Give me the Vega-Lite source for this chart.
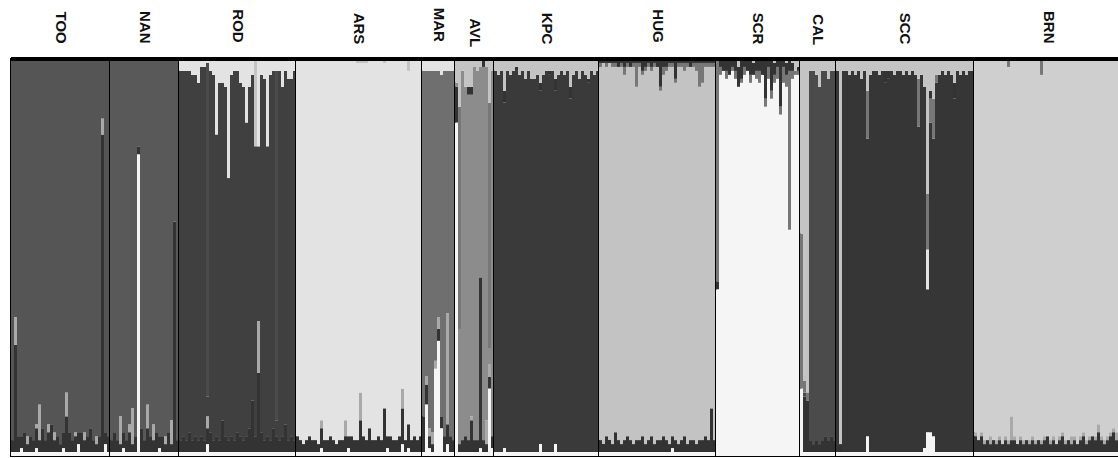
{
"$schema":"https://vega.github.io/schema/vega-lite/v6.json",
"padding":{"left":8,"top":7,"right":0,"bottom":0},
"background":"white",
"data":{"values":[
{"pop":"TOO","id":1,"a":1,"b":3,"d":96},
{"pop":"TOO","id":2,"a":1,"b":27,"c":7,"d":65},
{"pop":"TOO","id":3,"a":1,"b":4,"d":95},
{"pop":"TOO","id":4,"a":2,"b":3,"d":95},
{"pop":"TOO","id":5,"a":1,"b":5,"d":94},
{"pop":"TOO","id":6,"a":1,"b":2,"c":2,"d":95},
{"pop":"TOO","id":7,"a":1,"b":4,"d":95},
{"pop":"TOO","id":8,"a":1,"b":3,"d":96},
{"pop":"TOO","id":9,"a":2,"b":5,"c":1,"d":92},
{"pop":"TOO","id":10,"a":1,"b":3,"c":9,"d":87},
{"pop":"TOO","id":11,"a":1,"b":6,"d":93},
{"pop":"TOO","id":12,"a":1,"b":3,"d":96},
{"pop":"TOO","id":13,"a":1,"b":5,"c":2,"d":92},
{"pop":"TOO","id":14,"a":1,"b":7,"d":92},
{"pop":"TOO","id":15,"a":1,"b":3,"c":2,"d":94},
{"pop":"TOO","id":16,"a":1,"b":4,"d":95},
{"pop":"TOO","id":17,"a":1,"b":2,"d":97},
{"pop":"TOO","id":18,"a":2,"b":4,"d":94},
{"pop":"TOO","id":19,"a":1,"b":9,"c":6,"d":84},
{"pop":"TOO","id":20,"a":1,"b":5,"d":94},
{"pop":"TOO","id":21,"a":1,"b":3,"d":96},
{"pop":"TOO","id":22,"a":1,"b":4,"c":1,"d":94},
{"pop":"TOO","id":23,"a":3,"b":3,"d":94},
{"pop":"TOO","id":24,"a":1,"b":5,"d":94},
{"pop":"TOO","id":25,"a":1,"b":3,"c":2,"d":94},
{"pop":"TOO","id":26,"a":1,"b":4,"d":95},
{"pop":"TOO","id":27,"a":1,"b":6,"d":93},
{"pop":"TOO","id":28,"a":1,"b":3,"d":96},
{"pop":"TOO","id":29,"a":1,"b":2,"c":2,"d":95},
{"pop":"TOO","id":30,"a":1,"b":4,"d":95},
{"pop":"TOO","id":31,"a":1,"b":80,"c":4,"d":15},
{"pop":"TOO","id":32,"a":3,"b":3,"d":94},
{"pop":"TOO","id":33,"a":1,"b":4,"d":95},
{"pop":"NAN","id":34,"a":1,"b":3,"e":96},
{"pop":"NAN","id":35,"a":1,"b":5,"e":94},
{"pop":"NAN","id":36,"a":1,"b":3,"e":96},
{"pop":"NAN","id":37,"a":1,"b":2,"c":7,"e":90},
{"pop":"NAN","id":38,"a":2,"b":4,"e":94},
{"pop":"NAN","id":39,"a":1,"b":3,"e":96},
{"pop":"NAN","id":40,"a":1,"b":5,"c":2,"e":92},
{"pop":"NAN","id":41,"a":1,"b":2,"c":9,"e":88},
{"pop":"NAN","id":42,"a":1,"b":4,"e":95},
{"pop":"NAN","id":43,"a":76,"b":2,"e":22},
{"pop":"NAN","id":44,"a":1,"b":6,"e":93},
{"pop":"NAN","id":45,"a":1,"b":3,"e":96},
{"pop":"NAN","id":46,"a":1,"b":6,"c":6,"e":87},
{"pop":"NAN","id":47,"a":1,"b":4,"e":95},
{"pop":"NAN","id":48,"a":1,"b":3,"c":4,"e":92},
{"pop":"NAN","id":49,"a":1,"b":5,"e":94},
{"pop":"NAN","id":50,"a":2,"b":3,"e":95},
{"pop":"NAN","id":51,"a":1,"b":4,"e":95},
{"pop":"NAN","id":52,"a":1,"b":2,"c":2,"e":95},
{"pop":"NAN","id":53,"a":1,"b":5,"e":94},
{"pop":"NAN","id":54,"a":1,"b":2,"c":6,"e":91},
{"pop":"NAN","id":55,"a":1,"b":58,"e":41},
{"pop":"NAN","id":56,"a":1,"b":3,"e":96},
{"pop":"ROD","id":57,"a":1,"b":3,"f":93,"n":3},
{"pop":"ROD","id":58,"a":1,"b":4,"f":92,"n":3},
{"pop":"ROD","id":59,"a":1,"b":3,"f":93,"n":3},
{"pop":"ROD","id":60,"a":1,"b":5,"f":91,"n":3},
{"pop":"ROD","id":61,"a":1,"b":3,"f":92,"n":4},
{"pop":"ROD","id":62,"a":1,"b":4,"f":91,"n":4},
{"pop":"ROD","id":63,"a":1,"b":3,"f":90,"n":6},
{"pop":"ROD","id":64,"a":1,"b":4,"f":93,"n":2},
{"pop":"ROD","id":65,"a":1,"b":3,"f":94,"n":2},
{"pop":"ROD","id":66,"a":3,"b":4,"c":3,"f":5,"j":84,"n":1},
{"pop":"ROD","id":67,"a":1,"b":5,"f":91,"n":3},
{"pop":"ROD","id":68,"a":1,"b":3,"f":92,"n":4},
{"pop":"ROD","id":69,"a":1,"b":4,"f":76,"n":19},
{"pop":"ROD","id":70,"a":1,"b":3,"f":90,"n":6},
{"pop":"ROD","id":71,"a":1,"b":8,"f":85,"n":6},
{"pop":"ROD","id":72,"a":1,"b":4,"f":88,"n":7},
{"pop":"ROD","id":73,"a":1,"b":3,"f":66,"n":30},
{"pop":"ROD","id":74,"a":1,"b":4,"f":91,"n":4},
{"pop":"ROD","id":75,"a":1,"b":3,"f":93,"n":3},
{"pop":"ROD","id":76,"a":1,"b":5,"f":91,"n":3},
{"pop":"ROD","id":77,"a":1,"b":4,"f":89,"n":6},
{"pop":"ROD","id":78,"a":1,"b":3,"f":89,"n":7},
{"pop":"ROD","id":79,"a":1,"b":4,"f":79,"n":16},
{"pop":"ROD","id":80,"a":1,"b":6,"f":86,"n":7},
{"pop":"ROD","id":81,"a":1,"b":13,"f":82,"n":4},
{"pop":"ROD","id":82,"a":1,"b":4,"f":73,"q":22},
{"pop":"ROD","id":83,"a":1,"b":20,"c":13,"f":44,"n":22},
{"pop":"ROD","id":84,"a":1,"b":5,"f":90,"n":4},
{"pop":"ROD","id":85,"a":1,"b":3,"f":91,"n":5},
{"pop":"ROD","id":86,"a":1,"b":4,"f":73,"n":22},
{"pop":"ROD","id":87,"a":1,"b":3,"f":92,"n":4},
{"pop":"ROD","id":88,"a":1,"b":6,"f":90,"n":3},
{"pop":"ROD","id":89,"a":1,"b":4,"f":4,"j":88,"n":3},
{"pop":"ROD","id":90,"a":1,"b":3,"f":93,"n":3},
{"pop":"ROD","id":91,"a":1,"b":4,"f":88,"n":7},
{"pop":"ROD","id":92,"a":1,"b":7,"f":89,"n":3},
{"pop":"ROD","id":93,"a":1,"b":3,"f":91,"n":5},
{"pop":"ROD","id":94,"a":1,"b":4,"f":90,"n":5},
{"pop":"ROD","id":95,"a":1,"b":3,"f":93,"n":3},
{"pop":"ARS","id":96,"a":1,"b":4,"n":95},
{"pop":"ARS","id":97,"a":1,"b":3,"n":96},
{"pop":"ARS","id":98,"a":1,"b":2,"n":97},
{"pop":"ARS","id":99,"a":1,"b":3,"n":96},
{"pop":"ARS","id":100,"a":1,"b":4,"n":95},
{"pop":"ARS","id":101,"a":1,"b":3,"n":96},
{"pop":"ARS","id":102,"a":1,"b":3,"n":96},
{"pop":"ARS","id":103,"a":1,"b":2,"n":97},
{"pop":"ARS","id":104,"a":2,"b":5,"c":2,"n":91},
{"pop":"ARS","id":105,"a":1,"b":3,"n":96},
{"pop":"ARS","id":106,"a":1,"b":3,"n":96},
{"pop":"ARS","id":107,"a":1,"b":4,"n":95},
{"pop":"ARS","id":108,"a":1,"b":3,"n":96},
{"pop":"ARS","id":109,"a":1,"b":2,"n":97},
{"pop":"ARS","id":110,"a":1,"b":3,"n":96},
{"pop":"ARS","id":111,"a":1,"b":3,"n":96},
{"pop":"ARS","id":112,"a":1,"b":4,"c":4,"n":91},
{"pop":"ARS","id":113,"a":2,"b":3,"n":95},
{"pop":"ARS","id":114,"a":1,"b":4,"n":95},
{"pop":"ARS","id":115,"a":1,"b":3,"n":96},
{"pop":"ARS","id":116,"a":1,"b":3,"n":95,"q":1},
{"pop":"ARS","id":117,"a":1,"b":8,"c":7,"n":83,"q":1},
{"pop":"ARS","id":118,"a":1,"b":4,"n":94,"q":1},
{"pop":"ARS","id":119,"a":1,"b":3,"n":95,"q":1},
{"pop":"ARS","id":120,"a":1,"b":6,"n":93},
{"pop":"ARS","id":121,"a":1,"b":3,"n":96},
{"pop":"ARS","id":122,"a":1,"b":3,"n":96},
{"pop":"ARS","id":123,"a":1,"b":4,"n":95},
{"pop":"ARS","id":124,"a":1,"b":3,"n":96},
{"pop":"ARS","id":125,"a":1,"b":11,"n":87,"q":1},
{"pop":"ARS","id":126,"a":2,"b":3,"n":95},
{"pop":"ARS","id":127,"a":1,"b":4,"n":95},
{"pop":"ARS","id":128,"a":1,"b":3,"n":96},
{"pop":"ARS","id":129,"a":1,"b":3,"n":96},
{"pop":"ARS","id":130,"a":1,"b":4,"n":95},
{"pop":"ARS","id":131,"a":3,"b":9,"c":5,"n":83},
{"pop":"ARS","id":132,"a":1,"b":3,"n":96},
{"pop":"ARS","id":133,"a":2,"b":6,"n":89,"q":3},
{"pop":"ARS","id":134,"a":1,"b":3,"n":96},
{"pop":"ARS","id":135,"a":1,"b":4,"n":95},
{"pop":"ARS","id":136,"a":1,"b":3,"n":96},
{"pop":"ARS","id":137,"a":1,"b":4,"n":95},
{"pop":"MAR","id":138,"a":1,"b":9,"g":87,"n":3},
{"pop":"MAR","id":139,"a":13,"b":5,"c":2,"g":77,"n":3},
{"pop":"MAR","id":140,"a":2,"b":3,"c":2,"g":90,"n":3},
{"pop":"MAR","id":141,"a":1,"b":2,"c":3,"g":91,"n":3},
{"pop":"MAR","id":142,"a":22,"c":2,"g":73,"n":3},
{"pop":"MAR","id":143,"a":29,"b":3,"c":3,"g":62,"n":3},
{"pop":"MAR","id":144,"a":7,"b":3,"g":86,"n":4},
{"pop":"MAR","id":145,"a":1,"b":4,"g":92,"n":3},
{"pop":"MAR","id":146,"a":3,"b":5,"c":28,"g":61,"n":3},
{"pop":"MAR","id":147,"a":1,"b":4,"g":92,"n":3},
{"pop":"MAR","id":148,"a":1,"b":3,"g":93,"n":3},
{"pop":"AVL","id":149,"a":84,"b":9,"h":1,"q":6},
{"pop":"AVL","id":150,"a":1,"b":2,"h":29,"o":56,"q":12},
{"pop":"AVL","id":151,"a":1,"b":3,"h":93,"q":3},
{"pop":"AVL","id":152,"a":1,"b":4,"h":88,"q":7},
{"pop":"AVL","id":153,"a":1,"b":3,"h":87,"p":2,"q":7},
{"pop":"AVL","id":154,"a":1,"b":8,"c":1,"h":81,"p":2,"q":7},
{"pop":"AVL","id":155,"a":1,"b":3,"h":94,"q":2},
{"pop":"AVL","id":156,"a":1,"b":3,"h":93,"q":3},
{"pop":"AVL","id":157,"a":2,"b":43,"h":53,"q":2},
{"pop":"AVL","id":158,"a":1,"b":3,"h":94,"p":2},
{"pop":"AVL","id":159,"a":1,"b":2,"c":6,"h":89,"q":2},
{"pop":"AVL","id":160,"a":17,"b":3,"c":3,"h":4,"o":62,"q":11},
{"pop":"AVL","id":161,"a":2,"b":3,"h":92,"q":3},
{"pop":"KPC","id":162,"a":1,"i":96,"q":3},
{"pop":"KPC","id":163,"a":1,"i":95,"q":4},
{"pop":"KPC","id":164,"a":1,"i":96,"q":3},
{"pop":"KPC","id":165,"a":2,"i":87,"p":3,"q":8},
{"pop":"KPC","id":166,"a":1,"i":96,"q":3},
{"pop":"KPC","id":167,"a":1,"i":95,"q":4},
{"pop":"KPC","id":168,"a":1,"i":96,"q":3},
{"pop":"KPC","id":169,"a":1,"i":96,"p":1,"q":2},
{"pop":"KPC","id":170,"a":1,"i":95,"q":4},
{"pop":"KPC","id":171,"a":1,"i":96,"q":3},
{"pop":"KPC","id":172,"a":1,"i":94,"q":5},
{"pop":"KPC","id":173,"a":1,"i":96,"q":3},
{"pop":"KPC","id":174,"a":1,"i":94,"q":5},
{"pop":"KPC","id":175,"a":1,"i":94,"q":5},
{"pop":"KPC","id":176,"a":1,"i":95,"q":4},
{"pop":"KPC","id":177,"a":3,"i":89,"p":2,"q":6},
{"pop":"KPC","id":178,"a":1,"i":95,"q":4},
{"pop":"KPC","id":179,"a":1,"i":96,"q":3},
{"pop":"KPC","id":180,"a":1,"i":95,"p":1,"q":3},
{"pop":"KPC","id":181,"a":1,"i":96,"q":3},
{"pop":"KPC","id":182,"a":3,"i":89,"p":3,"q":5},
{"pop":"KPC","id":183,"a":1,"i":95,"q":4},
{"pop":"KPC","id":184,"a":1,"i":96,"q":3},
{"pop":"KPC","id":185,"a":1,"i":95,"q":4},
{"pop":"KPC","id":186,"a":1,"i":96,"q":3},
{"pop":"KPC","id":187,"a":1,"i":89,"p":3,"q":7},
{"pop":"KPC","id":188,"a":1,"i":95,"q":4},
{"pop":"KPC","id":189,"a":1,"i":96,"q":3},
{"pop":"KPC","id":190,"a":1,"i":94,"q":5},
{"pop":"KPC","id":191,"a":1,"i":96,"q":3},
{"pop":"KPC","id":192,"a":1,"i":95,"q":4},
{"pop":"KPC","id":193,"a":1,"i":93,"p":1,"q":5},
{"pop":"KPC","id":194,"a":1,"i":96,"q":3},
{"pop":"KPC","id":195,"a":1,"i":95,"q":4},
{"pop":"KPC","id":196,"a":1,"i":96,"q":3},
{"pop":"HUG","id":197,"a":1,"b":3,"l":94,"o":1,"p":1},
{"pop":"HUG","id":198,"a":1,"b":2,"l":95,"p":1},
{"pop":"HUG","id":199,"a":1,"b":4,"l":93,"o":1,"p":1},
{"pop":"HUG","id":200,"a":1,"b":3,"l":94,"p":1},
{"pop":"HUG","id":201,"a":1,"b":2,"l":95,"o":1,"p":1},
{"pop":"HUG","id":202,"a":1,"b":5,"l":92,"o":1,"p":1},
{"pop":"HUG","id":203,"a":1,"b":3,"l":94,"p":2},
{"pop":"HUG","id":204,"a":1,"b":2,"l":95,"o":1,"p":1},
{"pop":"HUG","id":205,"a":1,"b":3,"l":92,"o":2,"p":2},
{"pop":"HUG","id":206,"a":1,"b":4,"l":93,"o":1,"p":1},
{"pop":"HUG","id":207,"a":1,"b":3,"l":94,"p":2},
{"pop":"HUG","id":208,"a":1,"b":2,"l":95,"o":1,"p":1},
{"pop":"HUG","id":209,"a":1,"b":3,"l":89,"o":6,"p":1},
{"pop":"HUG","id":210,"a":1,"b":3,"l":94,"o":1,"p":1},
{"pop":"HUG","id":211,"a":1,"b":4,"l":91,"o":1,"p":3},
{"pop":"HUG","id":212,"a":1,"b":2,"l":94,"o":1,"p":2},
{"pop":"HUG","id":213,"a":1,"b":3,"l":94,"o":1,"p":1},
{"pop":"HUG","id":214,"a":1,"b":4,"l":92,"o":1,"p":2},
{"pop":"HUG","id":215,"a":1,"b":2,"l":95,"o":1,"p":1},
{"pop":"HUG","id":216,"a":1,"b":3,"l":94,"p":2},
{"pop":"HUG","id":217,"a":1,"b":3,"l":88,"o":1,"p":7},
{"pop":"HUG","id":218,"a":1,"b":4,"l":91,"o":2,"p":2},
{"pop":"HUG","id":219,"a":1,"b":3,"l":93,"o":1,"p":2},
{"pop":"HUG","id":220,"a":1,"b":2,"l":95,"o":1,"p":1},
{"pop":"HUG","id":221,"a":2,"b":3,"l":93,"o":1,"p":1},
{"pop":"HUG","id":222,"a":1,"b":3,"l":90,"o":1,"p":5},
{"pop":"HUG","id":223,"a":1,"b":2,"l":95,"o":1,"p":1},
{"pop":"HUG","id":224,"a":1,"b":3,"l":94,"o":1,"p":1},
{"pop":"HUG","id":225,"a":1,"b":4,"l":92,"o":2,"p":1},
{"pop":"HUG","id":226,"a":1,"b":2,"l":95,"o":1,"p":1},
{"pop":"HUG","id":227,"a":1,"b":3,"l":94,"p":2},
{"pop":"HUG","id":228,"a":1,"b":3,"l":94,"o":1,"p":1},
{"pop":"HUG","id":229,"a":1,"b":2,"l":94,"o":2,"p":1},
{"pop":"HUG","id":230,"a":1,"b":3,"l":89,"o":6,"p":1},
{"pop":"HUG","id":231,"a":1,"b":3,"l":90,"o":5,"p":1},
{"pop":"HUG","id":232,"a":1,"b":4,"l":93,"o":1,"p":1},
{"pop":"HUG","id":233,"a":1,"b":3,"l":94,"o":1,"p":1},
{"pop":"HUG","id":234,"a":1,"b":11,"l":86,"o":1,"p":1},
{"pop":"HUG","id":235,"a":1,"b":3,"l":94,"o":1,"p":1},
{"pop":"SCR","id":236,"a":42,"b":2,"o":56},
{"pop":"SCR","id":237,"a":96,"o":2,"p":2},
{"pop":"SCR","id":238,"a":97,"p":3},
{"pop":"SCR","id":239,"a":95,"o":2,"p":3},
{"pop":"SCR","id":240,"a":96,"p":4},
{"pop":"SCR","id":241,"a":97,"o":1,"p":2},
{"pop":"SCR","id":242,"a":95,"o":2,"p":3},
{"pop":"SCR","id":243,"a":93,"p":5,"q":2},
{"pop":"SCR","id":244,"a":94,"o":1,"p":5},
{"pop":"SCR","id":245,"a":96,"o":2,"p":2},
{"pop":"SCR","id":246,"a":97,"p":3},
{"pop":"SCR","id":247,"a":94,"o":2,"p":4},
{"pop":"SCR","id":248,"a":96,"p":3,"q":1},
{"pop":"SCR","id":249,"a":95,"o":2,"p":3},
{"pop":"SCR","id":250,"a":94,"o":3,"p":3},
{"pop":"SCR","id":251,"a":96,"p":4},
{"pop":"SCR","id":252,"a":88,"o":2,"p":10},
{"pop":"SCR","id":253,"a":95,"o":3,"p":2},
{"pop":"SCR","id":254,"a":90,"o":2,"p":8},
{"pop":"SCR","id":255,"a":94,"o":2,"p":3,"q":1},
{"pop":"SCR","id":256,"a":95,"o":3,"p":2},
{"pop":"SCR","id":257,"a":86,"o":2,"p":12},
{"pop":"SCR","id":258,"a":94,"o":4,"p":2},
{"pop":"SCR","id":259,"a":93,"o":3,"p":3,"q":1},
{"pop":"SCR","id":260,"a":57,"o":40,"p":3},
{"pop":"SCR","id":261,"a":95,"o":2,"p":2,"q":1},
{"pop":"SCR","id":262,"a":96,"o":1,"q":3},
{"pop":"SCR","id":263,"a":96,"o":1,"p":1,"q":2},
{"pop":"CAL","id":264,"a":17,"o":39,"q":44},
{"pop":"CAL","id":265,"a":1,"b":14,"j":1,"o":3,"q":81},
{"pop":"CAL","id":266,"a":1,"b":13,"o":2,"q":84},
{"pop":"CAL","id":267,"a":1,"b":3,"j":93,"q":3},
{"pop":"CAL","id":268,"a":1,"b":2,"j":94,"q":3},
{"pop":"CAL","id":269,"a":1,"b":3,"j":92,"q":4},
{"pop":"CAL","id":270,"a":1,"b":2,"j":90,"q":7},
{"pop":"CAL","id":271,"a":1,"b":3,"j":93,"q":3},
{"pop":"CAL","id":272,"a":1,"b":4,"j":92,"q":3},
{"pop":"CAL","id":273,"a":1,"b":3,"j":91,"q":5},
{"pop":"CAL","id":274,"a":1,"b":4,"j":92,"q":3},
{"pop":"CAL","id":275,"a":1,"b":3,"j":93,"q":3},
{"pop":"SCC","id":276,"a":1,"b":2,"k":94,"q":3},
{"pop":"SCC","id":277,"a":1,"b":2,"q":97},
{"pop":"SCC","id":278,"a":1,"k":96,"q":3},
{"pop":"SCC","id":279,"a":1,"k":96,"q":3},
{"pop":"SCC","id":280,"a":1,"k":95,"q":4},
{"pop":"SCC","id":281,"a":1,"k":96,"q":3},
{"pop":"SCC","id":282,"a":1,"k":95,"q":4},
{"pop":"SCC","id":283,"a":1,"k":96,"q":3},
{"pop":"SCC","id":284,"a":1,"k":94,"q":5},
{"pop":"SCC","id":285,"a":1,"k":96,"q":3},
{"pop":"SCC","id":286,"a":5,"k":75,"o":12,"q":8},
{"pop":"SCC","id":287,"a":1,"k":95,"q":4},
{"pop":"SCC","id":288,"a":1,"k":96,"q":3},
{"pop":"SCC","id":289,"a":1,"k":96,"q":3},
{"pop":"SCC","id":290,"a":1,"k":95,"q":4},
{"pop":"SCC","id":291,"a":1,"k":96,"q":3},
{"pop":"SCC","id":292,"a":1,"k":93,"p":3,"q":3},
{"pop":"SCC","id":293,"a":1,"k":94,"p":2,"q":3},
{"pop":"SCC","id":294,"a":1,"k":96,"q":3},
{"pop":"SCC","id":295,"a":1,"k":95,"q":4},
{"pop":"SCC","id":296,"a":1,"k":96,"q":3},
{"pop":"SCC","id":297,"a":1,"k":96,"q":3},
{"pop":"SCC","id":298,"a":1,"k":95,"q":4},
{"pop":"SCC","id":299,"a":1,"k":96,"q":3},
{"pop":"SCC","id":300,"a":1,"k":95,"q":4},
{"pop":"SCC","id":301,"a":1,"k":96,"q":3},
{"pop":"SCC","id":302,"a":1,"k":95,"q":4},
{"pop":"SCC","id":303,"a":1,"k":82,"o":12,"q":5},
{"pop":"SCC","id":304,"a":1,"k":95,"q":4},
{"pop":"SCC","id":305,"a":2,"k":91,"q":7},
{"pop":"SCC","id":306,"a":6,"k":36,"n":10,"o":14,"q":34},
{"pop":"SCC","id":307,"a":6,"k":78,"o":6,"p":2,"q":8},
{"pop":"SCC","id":308,"a":5,"k":75,"o":10,"q":10},
{"pop":"SCC","id":309,"a":1,"k":93,"o":2,"q":4},
{"pop":"SCC","id":310,"a":1,"k":95,"q":4},
{"pop":"SCC","id":311,"a":1,"k":96,"q":3},
{"pop":"SCC","id":312,"a":1,"k":95,"q":4},
{"pop":"SCC","id":313,"a":1,"k":96,"q":3},
{"pop":"SCC","id":314,"a":1,"k":95,"q":4},
{"pop":"SCC","id":315,"a":1,"k":89,"p":4,"q":6},
{"pop":"SCC","id":316,"a":1,"k":96,"q":3},
{"pop":"SCC","id":317,"a":1,"k":95,"q":4},
{"pop":"SCC","id":318,"a":1,"k":96,"q":3},
{"pop":"SCC","id":319,"a":1,"k":95,"q":4},
{"pop":"SCC","id":320,"a":1,"k":96,"q":3},
{"pop":"SCC","id":321,"a":1,"k":96,"q":3},
{"pop":"BRN","id":322,"a":1,"b":4,"c":1,"m":94},
{"pop":"BRN","id":323,"a":1,"b":3,"m":96},
{"pop":"BRN","id":324,"a":1,"b":4,"c":1,"m":94},
{"pop":"BRN","id":325,"a":1,"b":2,"c":1,"m":96},
{"pop":"BRN","id":326,"a":1,"b":3,"m":96},
{"pop":"BRN","id":327,"a":1,"b":2,"c":2,"m":95},
{"pop":"BRN","id":328,"a":1,"b":3,"m":96},
{"pop":"BRN","id":329,"a":1,"b":2,"c":1,"m":96},
{"pop":"BRN","id":330,"a":1,"b":3,"c":1,"m":95},
{"pop":"BRN","id":331,"a":1,"b":2,"m":97},
{"pop":"BRN","id":332,"a":1,"b":3,"c":1,"m":95},
{"pop":"BRN","id":333,"a":1,"b":2,"c":1,"m":94,"o":2},
{"pop":"BRN","id":334,"a":1,"b":3,"c":6,"m":90},
{"pop":"BRN","id":335,"a":1,"b":3,"c":1,"m":95},
{"pop":"BRN","id":336,"a":1,"b":2,"m":97},
{"pop":"BRN","id":337,"a":1,"b":3,"c":1,"m":95},
{"pop":"BRN","id":338,"a":1,"b":2,"c":1,"m":96},
{"pop":"BRN","id":339,"a":1,"b":3,"m":96},
{"pop":"BRN","id":340,"a":1,"b":2,"c":1,"m":96},
{"pop":"BRN","id":341,"a":1,"b":3,"c":1,"m":95},
{"pop":"BRN","id":342,"a":1,"b":2,"c":1,"m":96},
{"pop":"BRN","id":343,"a":1,"b":3,"m":96},
{"pop":"BRN","id":344,"a":1,"b":2,"c":1,"m":92,"o":4},
{"pop":"BRN","id":345,"a":1,"b":3,"c":1,"m":95},
{"pop":"BRN","id":346,"a":1,"b":4,"m":95},
{"pop":"BRN","id":347,"a":1,"b":2,"c":1,"m":96},
{"pop":"BRN","id":348,"a":1,"b":3,"c":1,"m":95},
{"pop":"BRN","id":349,"a":1,"b":2,"m":97},
{"pop":"BRN","id":350,"a":1,"b":3,"c":1,"m":95},
{"pop":"BRN","id":351,"a":1,"b":4,"c":1,"m":94},
{"pop":"BRN","id":352,"a":1,"b":2,"c":1,"m":96},
{"pop":"BRN","id":353,"a":1,"b":3,"m":96},
{"pop":"BRN","id":354,"a":1,"b":2,"c":2,"m":95},
{"pop":"BRN","id":355,"a":1,"b":3,"c":1,"m":95},
{"pop":"BRN","id":356,"a":1,"b":2,"m":97},
{"pop":"BRN","id":357,"a":1,"b":3,"c":1,"m":95},
{"pop":"BRN","id":358,"a":1,"b":4,"c":1,"m":94},
{"pop":"BRN","id":359,"a":1,"b":2,"c":1,"m":96},
{"pop":"BRN","id":360,"a":1,"b":3,"c":1,"m":95},
{"pop":"BRN","id":361,"a":1,"b":4,"m":95},
{"pop":"BRN","id":362,"a":1,"b":3,"c":1,"m":95},
{"pop":"BRN","id":363,"a":1,"b":5,"c":2,"m":92},
{"pop":"BRN","id":364,"a":1,"b":3,"c":1,"m":95},
{"pop":"BRN","id":365,"a":1,"b":2,"c":1,"m":96},
{"pop":"BRN","id":366,"a":1,"b":3,"c":1,"m":95},
{"pop":"BRN","id":367,"a":1,"b":4,"c":1,"m":94},
{"pop":"BRN","id":368,"a":1,"b":5,"c":1,"m":93},
{"pop":"BRN","id":369,"a":1,"b":3,"c":2,"m":94},
{"pop":"BRN","id":370,"a":1,"b":4,"m":95},
{"pop":"BRN","id":371,"a":1,"b":3,"c":1,"m":95}
]},
"transform":[{"fold":["a","b","c","d","e","f","g","h","i","j","k","l","m","n","o","p","q"],"as":["cl","val"]},{"filter":{"field":"val","valid":true}}],
"facet":{"column":{"field":"pop","type":"nominal","sort":["TOO","NAN","ROD","ARS","MAR","AVL","KPC","HUG","SCR","CAL","SCC","BRN"],
"header":{"title":null,"labelOrient":"top","labelAngle":90,"labelAlign":"right","labelBaseline":"middle","labelFont":"Liberation Sans","labelFontSize":15,"labelFontWeight":"bold","labelColor":"#111","labelPadding":-17}}},
"spacing":0,
"bounds":"flush",
"resolve":{"scale":{"x":"independent"}},
"spec":{
"width":{"step":3},
"height":397,
"layer":[
{"mark":{"type":"bar"},
"encoding":{
"x":{"field":"id","type":"ordinal","axis":null,"scale":{"paddingInner":0,"paddingOuter":0}},
"y":{"field":"val","type":"quantitative","stack":"normalize","axis":null,"scale":{"domain":[0,1]}},
"color":{"field":"cl","type":"nominal","legend":null,"scale":{"domain":["a","b","c","d","e","f","g","h","i","j","k","l","m","n","o","p","q"],"range":["#f5f5f5","#333333","#a9a9a9","#555555","#595959","#404040","#6f6f6f","#8c8c8c","#3a3a3a","#4b4b4b","#363636","#c3c3c3","#cfcfcf","#e3e3e3","#777777","#333333","#c4c4c4"]}},
"order":{"field":"cl","type":"ordinal","sort":"ascending"}}},
{"mark":{"type":"rule","color":"black","strokeWidth":3},"encoding":{"y":{"datum":1}}}
]},
"config":{"view":{"stroke":"black","strokeWidth":2}}
}
